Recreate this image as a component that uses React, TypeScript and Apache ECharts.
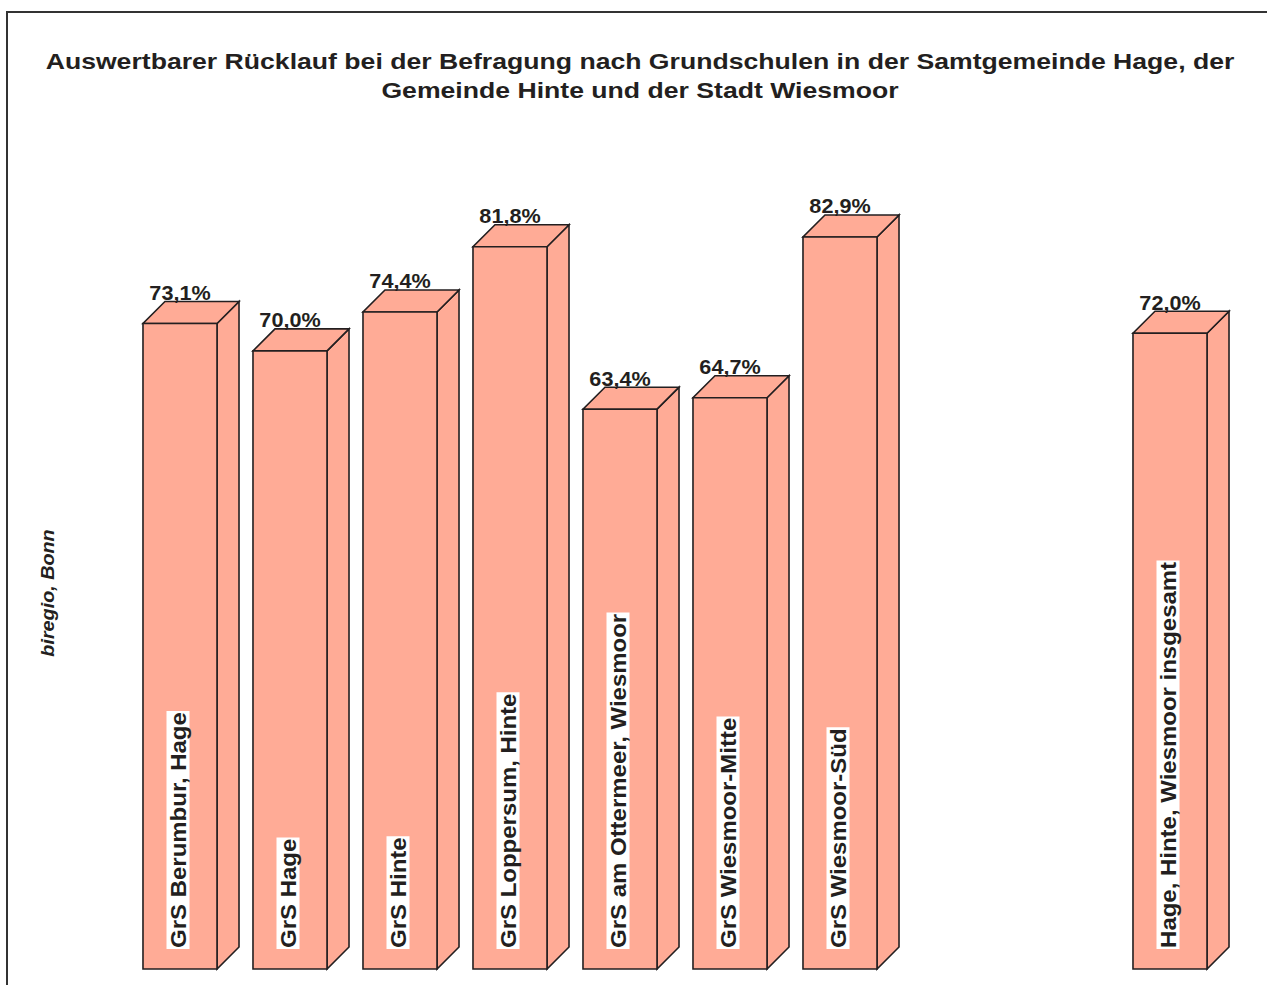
import React, { useEffect, useRef } from "react";
import * as echarts from "echarts";

const categories: string[] = [
  "GrS Berumbur, Hage",
  "GrS Hage",
  "GrS Hinte",
  "GrS Loppersum, Hinte",
  "GrS am Ottermeer, Wiesmoor",
  "GrS Wiesmoor-Mitte",
  "GrS Wiesmoor-Süd",
  "",
  "",
  "Hage, Hinte, Wiesmoor insgesamt",
];
const values: (number | null)[] = [73.1, 70.0, 74.4, 81.8, 63.4, 64.7, 82.9, null, null, 72.0];
const valueLabels: string[] = ["73,1%", "70,0%", "74,4%", "81,8%", "63,4%", "64,7%", "82,9%", "", "", "72,0%"];

const titleText =
  "Auswertbarer Rücklauf bei der Befragung nach Grundschulen in der Samtgemeinde Hage, der\nGemeinde Hinte und der Stadt Wiesmoor";
const sourceText = "biregio, Bonn";

const FILL = "#FFAB96";
const STROKE = "#231f20";
const FONT = "Liberation Sans, Arial, sans-serif";

export default function App() {
  const ref = useRef<HTMLDivElement>(null);
  useEffect(() => {
    if (!ref.current) return;
    const chart = echarts.init(ref.current, undefined, { renderer: "svg" });
    const data = values
      .map((v, i) => (v == null ? null : [i, v]))
      .filter((d) => d !== null);
    chart.setOption({
      animation: false,
      backgroundColor: "#ffffff",
      graphic: [
        {
          type: "rect",
          shape: { x: 7, y: 12, width: 1300, height: 1000 },
          style: { fill: "none", stroke: "#333333", lineWidth: 2 },
          silent: true,
        },
        {
          type: "text",
          x: 640,
          y: 47,
          scaleX: 1.21,
          style: {
            text: titleText,
            fontFamily: FONT,
            fontWeight: "bold",
            fontSize: 22,
            lineHeight: 29,
            fill: "#231f20",
            align: "center",
            verticalAlign: "top",
          },
        },
        {
          type: "text",
          x: 47,
          y: 593,
          rotation: Math.PI / 2,
          scaleX: 1.04,
          style: {
            text: sourceText,
            fontFamily: FONT,
            fontStyle: "italic",
            fontWeight: "bold",
            fontSize: 19,
            fill: "#231f20",
            align: "center",
            verticalAlign: "middle",
          },
        },
      ],
      grid: { left: 125, width: 1100, top: 86, height: 883 },
      xAxis: { type: "category", data: categories, show: false },
      yAxis: { type: "value", min: 0, max: 100, show: false },
      series: [
        {
          type: "custom",
          data,
          encode: { x: 0, y: 1 },
          renderItem: (params: any, api: any) => {
            const idx = api.value(0);
            const val = api.value(1);
            const name = categories[idx];
            const lbl = valueLabels[idx];
            const top = api.coord([idx, val]);
            const bot = api.coord([idx, 0]);
            const band = api.size([1, 0])[0];
            const w = band * 0.673;
            const d = 22;
            const cx = top[0];
            const x0 = cx - w / 2;
            const x1 = cx + w / 2;
            const yt = top[1];
            const yb = bot[1];
            const st = { fill: FILL, stroke: STROKE, lineWidth: 1.6, lineJoin: "miter" };
            return {
              type: "group",
              children: [
                {
                  type: "polygon",
                  shape: { points: [[x1, yt], [x1 + d, yt - d], [x1 + d, yb - d], [x1, yb]] },
                  style: st,
                },
                {
                  type: "polygon",
                  shape: { points: [[x0, yt], [x1, yt], [x1 + d, yt - d], [x0 + d, yt - d]] },
                  style: st,
                },
                {
                  type: "rect",
                  shape: { x: x0, y: yt, width: w, height: yb - yt },
                  style: st,
                },
                {
                  type: "text",
                  x: cx,
                  y: yt - 20,
                  scaleX: 1.03,
                  style: {
                    text: lbl,
                    fontFamily: FONT,
                    fontWeight: "bold",
                    fontSize: 21,
                    fill: "#231f20",
                    align: "center",
                    verticalAlign: "bottom",
                  },
                },
                {
                  type: "text",
                  x: cx - 2,
                  y: yb - 20,
                  rotation: Math.PI / 2,
                  scaleX: 1.09,
                  style: {
                    text: name,
                    fontFamily: FONT,
                    fontWeight: "bold",
                    fontSize: 22,
                    fill: "#231f20",
                    backgroundColor: "#ffffff",
                    padding: [1, 1, 0, 1],
                    align: "left",
                    verticalAlign: "middle",
                  },
                },
              ],
            };
          },
        },
      ],
    });
    return () => chart.dispose();
  }, []);
  return (
    <div
      ref={ref}
      style={{ position: "fixed", left: 0, top: 0, width: 1267, height: 985 }}
    />
  );
}
